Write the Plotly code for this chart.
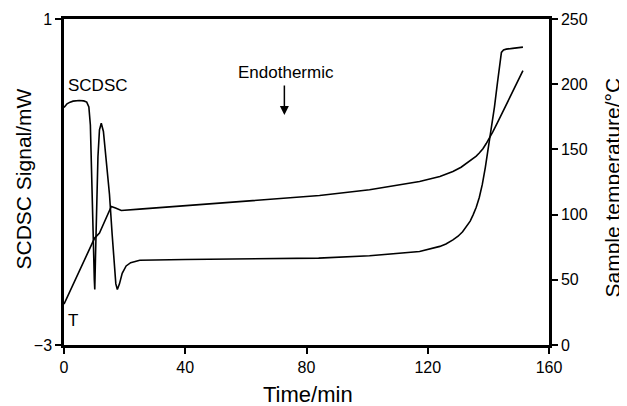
import plotly.graph_objects as go

# SCDSC signal (mW) vs time (min)
dsc_time = [0, 0.5, 1, 2, 3, 5, 6.5, 7.5, 8.2, 8.7, 9.2, 9.6, 10.0, 10.15, 10.4, 10.8, 11.2, 11.7,
            12.3, 13.0, 14.0, 15.0, 15.9, 16.5, 17.1, 17.6, 18.3, 19.2, 20.5, 22, 25, 40, 60, 84,
            100.8, 110, 117.3, 124, 126, 128.3, 130, 131.5, 132.7, 134, 135, 136, 137, 138, 139,
            140, 141, 142, 143, 143.8, 144.3, 145, 145.9, 148, 151.4]
dsc_signal = [-0.085, -0.06, -0.04, -0.02, -0.008, 0.0, -0.005, -0.02, -0.08, -0.3, -0.9, -1.6, -2.2,
              -2.32, -1.9, -1.2, -0.69, -0.36, -0.28, -0.38, -0.75, -1.15, -1.65, -2.0, -2.25, -2.32,
              -2.25, -2.12, -2.03, -1.99, -1.96, -1.95, -1.94, -1.934, -1.905, -1.88, -1.853, -1.79,
              -1.76, -1.71, -1.665, -1.61, -1.55, -1.48, -1.40, -1.31, -1.19, -1.03, -0.82, -0.58,
              -0.33, -0.08, 0.22, 0.48, 0.59, 0.62, 0.63, 0.64, 0.655]

# Sample temperature (°C) vs time (min)
t_time = [0, 5, 10.1, 11.7, 15.6, 17.0, 18.9, 24.9, 40, 60, 84.3, 100.8, 117.3, 124, 128.3, 131,
          133.8, 135, 136, 137, 138.2, 139.3, 140.4, 141.5, 143, 145.9, 151.4]
t_temp = [31.4, 56.0, 82.0, 85.8, 106.2, 105.0, 103.1, 104.2, 106.8, 110.3, 114.6, 119.0, 125.4,
          129.2, 133.0, 136.3, 140.7, 142.8, 144.8, 147.2, 150.5, 154.5, 158.9, 163.6, 170.5,
          184.1, 210.4]

x_ticks = [0, 40, 80, 120, 160]
y_ticks = [-3, 1]
y_ticktext = ["\u22123", "1"]
y2_ticks = [0, 50, 100, 150, 200, 250]

FONT = "Arial, Liberation Sans, Helvetica, sans-serif"

fig = go.Figure()
fig.add_trace(go.Scatter(x=dsc_time, y=dsc_signal, mode="lines",
                         line=dict(color="black", width=1.6), yaxis="y", showlegend=False))
fig.add_trace(go.Scatter(x=t_time, y=t_temp, mode="lines",
                         line=dict(color="black", width=1.6), yaxis="y2", showlegend=False))

axis_common = dict(showgrid=False, zeroline=False, showline=True, linecolor="black", linewidth=2.5,
                   ticks="outside", ticklen=6, tickwidth=1.5, tickcolor="black", automargin=False,
                   tickfont=dict(family=FONT, size=16, color="black"))

def txt(size):
    return dict(family=FONT, size=size, color="black")

fig.update_layout(
    width=619, height=398,
    margin=dict(l=56, r=78, t=11, b=61),
    paper_bgcolor="white", plot_bgcolor="white",
    font=dict(family=FONT, color="black"),
    xaxis=dict(range=[0, 160], tickvals=x_ticks, mirror=True, **axis_common),
    yaxis=dict(range=[-3, 1], tickvals=y_ticks, ticktext=y_ticktext, **axis_common),
    yaxis2=dict(range=[0, 250], tickvals=y2_ticks, overlaying="y", side="right", **axis_common),
    annotations=[
        # axis titles
        dict(x=0.5, y=0, xref="paper", yref="paper", text="Time/min", showarrow=False,
             xanchor="center", yanchor="middle", xshift=1.5, yshift=-49, font=txt(22)),
        dict(x=0, y=0.5, xref="paper", yref="paper", text="SCDSC Signal/mW", showarrow=False,
             textangle=-90, xanchor="center", yanchor="middle", xshift=-41.5, yshift=3, font=txt(21)),
        dict(x=1, y=0.5, xref="paper", yref="paper", text="Sample temperature/\u00b0C", showarrow=False,
             textangle=-90, xanchor="center", yanchor="middle", xshift=63, yshift=-5.5, font=txt(21)),
        # labels
        dict(x=11.05, y=0.185, xref="x", yref="y", text="SCDSC", showarrow=False, font=txt(17)),
        dict(x=3.1, y=-2.70, xref="x", yref="y", text="T", showarrow=False, font=txt(17)),
        dict(x=73.1, y=0.347, xref="x", yref="y", text="Endothermic", showarrow=False, font=txt(17)),
        dict(x=72.7, y=-0.177, xref="x", yref="y", text="", showarrow=True,
             ax=0, ay=-31, arrowhead=2, arrowsize=1.2, arrowwidth=1.5, arrowcolor="black"),
    ],
)

fig.write_html("out.html")
